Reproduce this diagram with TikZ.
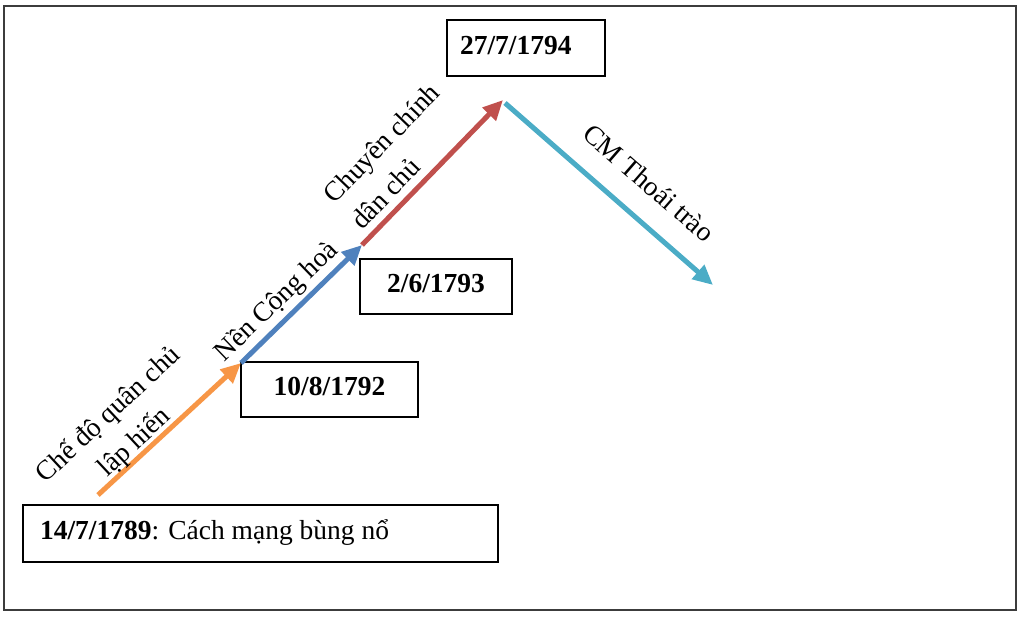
\documentclass[tikz,border=0pt]{standalone}
\usepackage{fontspec}
\setmainfont{Liberation Serif}
\usetikzlibrary{arrows.meta}
\definecolor{corange}{RGB}{247,150,70}
\definecolor{cblue}{RGB}{79,129,189}
\definecolor{cred}{RGB}{192,80,77}
\definecolor{cteal}{RGB}{75,172,198}
\definecolor{frame}{RGB}{60,60,60}
\tikzset{
  datebox/.style={draw=black, line width=1.2pt, fill=white, inner sep=0pt,
    text height=20pt, text depth=8pt, font=\fontsize{27.5}{33}\selectfont\bfseries},
  lbl/.style={font=\fontsize{27.5}{38}\selectfont, inner sep=0pt},
  phase/.style={line width=5pt, -{Triangle[length=20pt,width=18pt]}},
}
\begin{document}
\begin{tikzpicture}[x=1pt,y=1pt]
\useasboundingbox (0,0) rectangle (1024,-616);
\draw[frame, line width=1.6pt] (4,-6) rectangle (1016,-610);
% boxes
\node[datebox, minimum height=57pt, text width=441pt, inner xsep=17pt, align=left,
  font=\fontsize{27.5}{33}\selectfont] (b1) at (260.5,-533.5)
  {\spaceskip=0pt\xspaceskip=0pt\textbf{14/7/1789}: Cách mạng bùng nổ};
\node[datebox, minimum width=177pt, minimum height=55pt] (b2) at (329.5,-389.5) {10/8/1792};
\node[datebox, minimum width=152pt, minimum height=55pt] (b3) at (436,-286.5) {2/6/1793};
\node[datebox, minimum height=56pt, text width=132pt, inner xsep=13pt, align=left] (b4) at (526,-48) {27/7/1794};
% path points
\coordinate (p0) at (98,-495);
\coordinate (p1) at (241,-363);
\coordinate (p2) at (362,-245);
\coordinate (p3) at (503,-100);
\coordinate (p4) at (505,-103);
\coordinate (p5) at (713,-285);
\draw[phase, corange] (p0) -- (p1);
\draw[phase, cblue] (p1) -- (p2);
\draw[phase, cred] (p2) -- (p3);
\draw[phase, cteal] (p4) -- (p5);
% labels
\node[lbl, align=center, rotate=43] (l1) at (122,-429) {Chế độ quân chủ\\lập hiến};
\node[lbl, rotate=44] (l2) at (277,-302) {Nền Cộng hoà};
\node[lbl, align=left, rotate=46] (l3) at (395,-156) {Chuyên chính\\dân chủ};
\node[lbl, rotate=-41] (l4) at (649,-183) {CM Thoái trào};
\end{tikzpicture}
\end{document}
